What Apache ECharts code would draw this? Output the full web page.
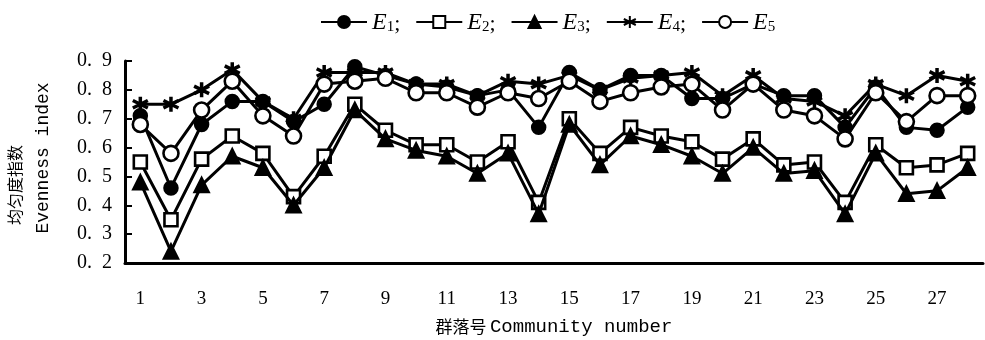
<!DOCTYPE html>
<html>
<head>
<meta charset="utf-8">
<script src="https://cdn.jsdelivr.net/npm/echarts@6/dist/echarts.min.js"></script>
<style>
  html, body { margin: 0; padding: 0; background: #fff; }
  #chart { width: 985px; height: 340px; }
</style>
</head>
<body>
<div id="chart"></div>
<script>
// Community numbers 1..28
const communities = ['1','2','3','4','5','6','7','8','9','10','11','12','13','14',
  '15','16','17','18','19','20','21','22','23','24','25','26','27','28'];

// Evenness indices E1..E5 per community
const e1 = [0.71,0.46,0.68,0.76,0.76,0.69,0.75,0.88,0.85,0.82,0.81,0.78,0.80,0.67,
            0.86,0.80,0.85,0.85,0.77,0.77,0.82,0.78,0.78,0.67,0.81,0.67,0.66,0.74];
const e2 = [0.55,0.35,0.56,0.64,0.58,0.43,0.57,0.75,0.66,0.61,0.61,0.55,0.62,0.41,
            0.70,0.58,0.67,0.64,0.62,0.56,0.63,0.54,0.55,0.41,0.61,0.53,0.54,0.58];
const e3 = [0.48,0.24,0.47,0.57,0.53,0.40,0.53,0.73,0.63,0.59,0.57,0.51,0.58,0.37,
            0.68,0.54,0.64,0.61,0.57,0.51,0.60,0.51,0.52,0.37,0.58,0.44,0.45,0.53];
const e4 = [0.75,0.75,0.80,0.87,0.76,0.70,0.86,0.86,0.86,0.82,0.82,0.78,0.83,0.82,
            0.85,0.80,0.84,0.85,0.86,0.78,0.85,0.77,0.76,0.71,0.82,0.78,0.85,0.83];
const e5 = [0.68,0.58,0.73,0.83,0.71,0.64,0.82,0.83,0.84,0.79,0.79,0.74,0.79,0.77,
            0.83,0.76,0.79,0.81,0.82,0.73,0.82,0.73,0.71,0.63,0.79,0.69,0.78,0.78];

const yTicks = { min: 0.2, max: 0.9, step: 0.1 };

const seriesNames = ['E1', 'E2', 'E3', 'E4', 'E5'];
const seriesData = [e1, e2, e3, e4, e5];

// six-spoke asterisk drawn as stroked segments
const asterisk = 'path://M0,-10L0,10M-8.66,-5L8.66,5M-8.66,5L8.66,-5';

const markerStyles = [
  { symbol: 'circle', symbolSize: 13, fill: '#000', border: 2.5 },
  { symbol: 'rect', symbolSize: 13, fill: '#fff', border: 2.6 },
  { symbol: 'triangle', symbolSize: 14, fill: '#000', border: 2.5 },
  { symbol: asterisk, symbolSize: 15, fill: '#000', border: 3.5 },
  { symbol: 'circle', symbolSize: 15, fill: '#fff', border: 2.6 }
];

const chart = echarts.init(document.getElementById('chart'), null, { renderer: 'canvas', width: 985, height: 340 });

const series = seriesNames.map((name, i) => ({
  name: name,
  type: 'line',
  data: seriesData[i],
  symbol: markerStyles[i].symbol,
  symbolSize: markerStyles[i].symbolSize,
  showAllSymbol: true,
  lineStyle: { color: '#000', width: 3 },
  itemStyle: { color: markerStyles[i].fill, borderColor: '#000', borderWidth: markerStyles[i].border },
  emphasis: { disabled: true },
  animation: false,
  z: 2 + i
}));

const monoFont = '"Liberation Mono", "DejaVu Sans Mono", monospace';
const serifFont = '"Liberation Serif", "DejaVu Serif", serif';
const cjkFont = '"Noto Sans CJK SC", sans-serif';

chart.setOption({
  backgroundColor: '#fff',
  animation: false,
  grid: { left: 125, width: 858, top: 61, height: 202, containLabel: false, outerBoundsMode: 'none' },
  legend: {
    data: seriesNames,
    top: 6,
    left: 315,
    itemWidth: 46,
    itemHeight: 15,
    itemGap: 15,
    selectedMode: false,
    formatter: function (name) {
      const idx = name.slice(1);
      return '{e|E}{s|' + idx + '}' + (name === 'E5' ? '' : '{p|;}');
    },
    textStyle: {
      color: '#000',
      rich: {
        e: { fontFamily: serifFont, fontStyle: 'italic', fontSize: 24, color: '#000', verticalAlign: 'bottom', lineHeight: 26 },
        s: { fontFamily: serifFont, fontSize: 15, color: '#000', verticalAlign: 'bottom', lineHeight: 19 },
        p: { fontFamily: serifFont, fontSize: 22, color: '#000', verticalAlign: 'bottom', lineHeight: 24 }
      }
    }
  },
  xAxis: {
    type: 'category',
    data: communities,
    boundaryGap: true,
    axisLine: { lineStyle: { color: '#000', width: 3 } },
    axisTick: { inside: true, length: 7, interval: 0, lineStyle: { color: '#000', width: 2 } },
    axisLabel: {
      interval: 1,
      margin: 27,
      color: '#000',
      fontFamily: serifFont,
      fontSize: 19
    },
    name: '{c|群落号} {t|Community number}',
    nameLocation: 'middle',
    nameGap: 54,
    nameTextStyle: {
      rich: {
        c: { fontFamily: cjkFont, fontSize: 17, color: '#000' },
        t: { fontFamily: monoFont, fontSize: 19, color: '#000' }
      }
    },
    splitLine: { show: false }
  },
  yAxis: {
    type: 'value',
    min: yTicks.min,
    max: yTicks.max,
    interval: yTicks.step,
    axisLine: { show: true, lineStyle: { color: '#000', width: 3 } },
    axisTick: { show: true, inside: true, length: 7, lineStyle: { color: '#000', width: 2 } },
    axisLabel: {
      margin: 13,
      color: '#000',
      fontFamily: serifFont,
      fontSize: 20,
      formatter: v => v.toFixed(1).replace('.', '.  ')
    },
    splitLine: { show: false }
  },
  graphic: [
    {
      type: 'text',
      x: 15, y: 185,
      rotation: Math.PI / 2,
      style: {
        text: '均匀度指数',
        font: '16px "Noto Sans CJK SC", sans-serif',
        fill: '#000',
        align: 'center',
        verticalAlign: 'middle'
      }
    },
    {
      type: 'text',
      x: 43, y: 158,
      rotation: Math.PI / 2,
      style: {
        text: 'Evenness index',
        font: '18px "Liberation Mono", monospace',
        fill: '#000',
        align: 'center',
        verticalAlign: 'middle'
      }
    }
  ],
  series: series
});
</script>
</body>
</html>
